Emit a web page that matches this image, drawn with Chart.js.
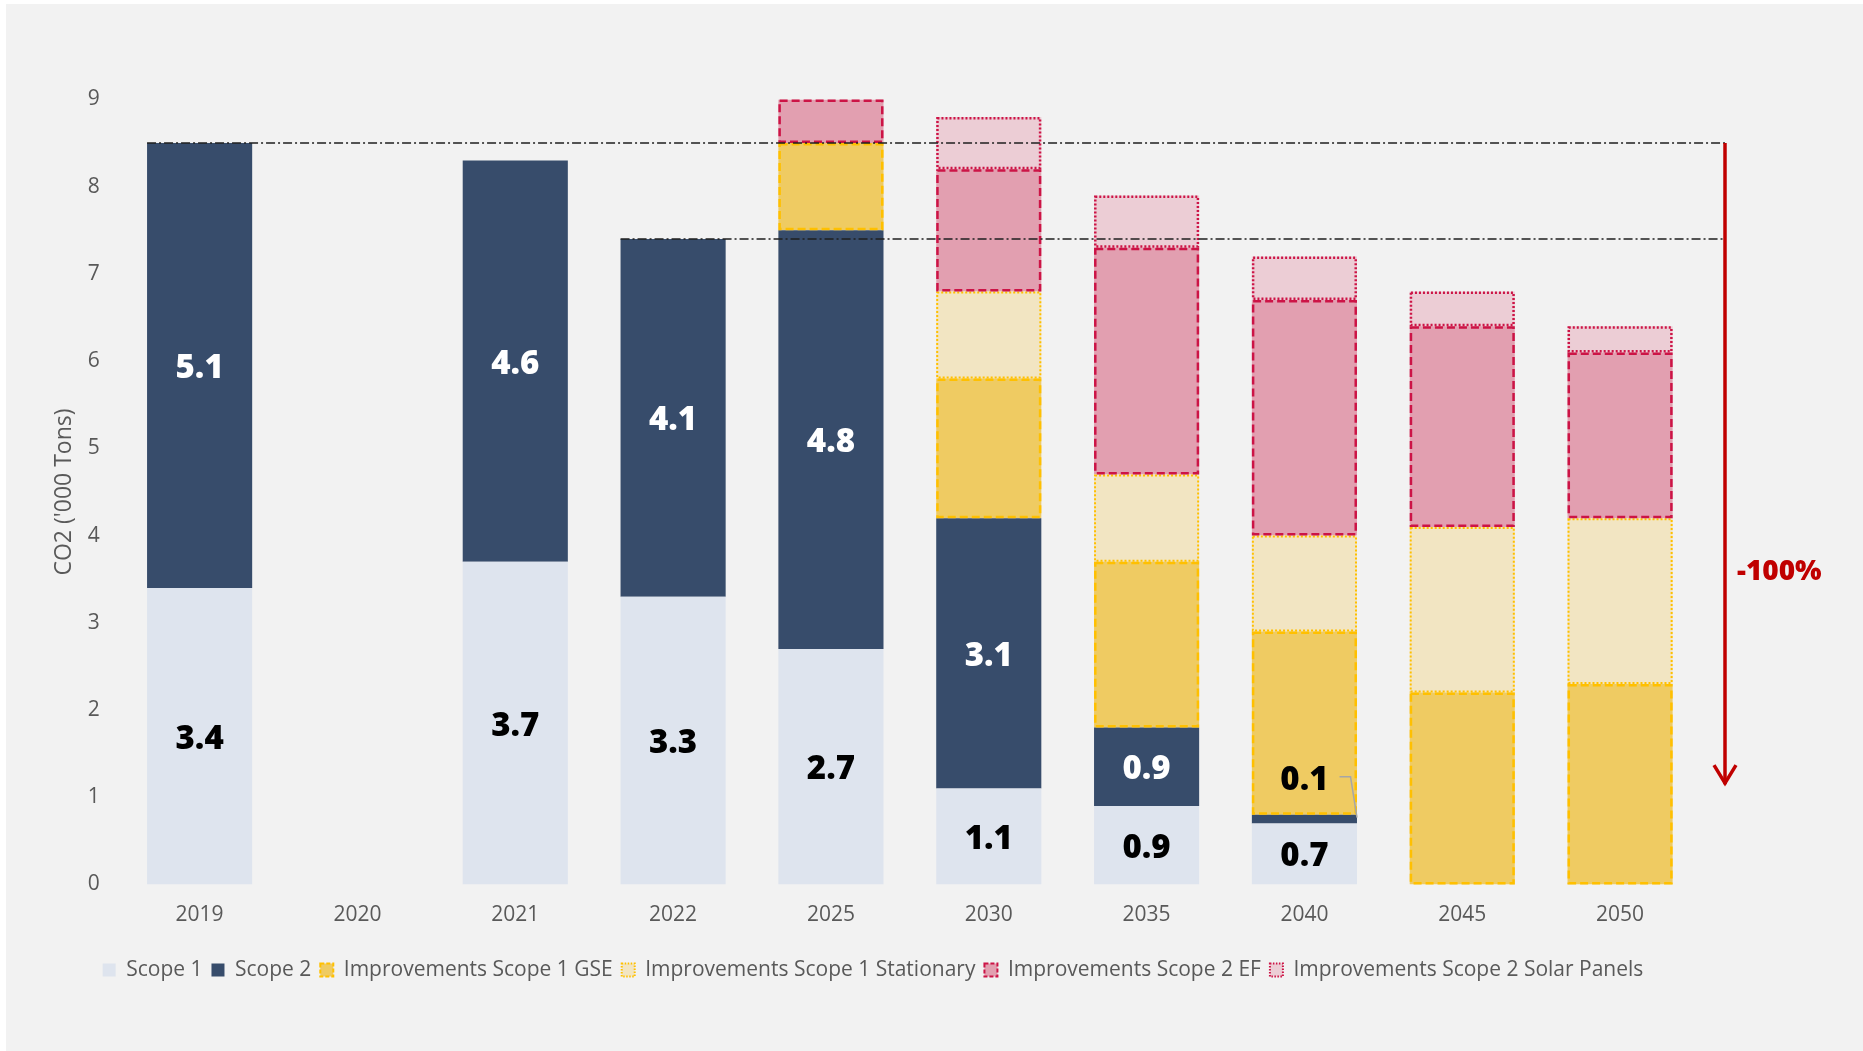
<!DOCTYPE html>
<html><head><meta charset="utf-8">
<script src="https://cdn.jsdelivr.net/npm/chart.js@4.4.1/dist/chart.umd.min.js"></script>
<style>
html,body{margin:0;padding:0;background:#fff;}
canvas{display:block;}
</style></head><body>
<canvas id="c" width="1863" height="1051"></canvas>
<script>
// ---- data ----
const categories = ['2019','2020','2021','2022','2025','2030','2035','2040','2045','2050'];
const scope1               = [3.4, null, 3.7, 3.3, 2.7, 1.1, 0.9, 0.7, null, null];
const scope2               = [5.1, null, 4.6, 4.1, 4.8, 3.1, 0.9, 0.1, null, null];
const imprScope1GSE        = [null, null, null, null, 1.0, 1.6, 1.9, 2.1, 2.2, 2.3];
const imprScope1Stationary = [null, null, null, null, null, 1.0, 1.0, 1.1, 1.9, 1.9];
const imprScope2EF         = [null, null, null, null, 0.5, 1.4, 2.6, 2.7, 2.3, 1.9];
const imprScope2Solar      = [null, null, null, null, null, 0.6, 0.6, 0.5, 0.4, 0.3];
const yTickValues = [0, 1, 2, 3, 4, 5, 6, 7, 8, 9];
const yAxisTitle = "CO2 ('000 Tons)";
const baselineLevels = [ { value: 8.5, fromCategory: '2019' }, { value: 7.4, fromCategory: '2022' } ];
const reductionArrow = { from: 8.5, to: 1.15, label: '-100%', labelAt: 3.6 };

const GREY = '#595959';
const FONT = "'Open Sans', 'Noto Sans', sans-serif";

const datasets = [
  { label: 'Scope 1', data: scope1, backgroundColor: '#dee4ee', labelColor: '#000000' },
  { label: 'Scope 2', data: scope2, backgroundColor: '#374c6b', labelColor: '#ffffff' },
  { label: 'Improvements Scope 1 GSE', data: imprScope1GSE, backgroundColor: '#efcb62',
    edge: { color: '#ffc000', width: 2.5, dash: [8, 4] } },
  { label: 'Improvements Scope 1 Stationary', data: imprScope1Stationary, backgroundColor: '#f2e5c2',
    edge: { color: '#ffc000', width: 2, dash: [2, 2] } },
  { label: 'Improvements Scope 2 EF', data: imprScope2EF, backgroundColor: '#e29fb0',
    edge: { color: '#cc1446', width: 2.5, dash: [8, 4] } },
  { label: 'Improvements Scope 2 Solar Panels', data: imprScope2Solar, backgroundColor: '#eccdd5',
    edge: { color: '#cc1446', width: 2.5, dash: [2, 2] } }
].map(d => Object.assign({ borderWidth: 0, categoryPercentage: 1.0, barPercentage: 0.666 }, d));

const bgPlugin = {
  id: 'bg',
  beforeDraw(chart) {
    const ctx = chart.ctx;
    ctx.save();
    ctx.fillStyle = '#ffffff';
    ctx.fillRect(0, 0, chart.width, chart.height);
    ctx.fillStyle = '#f2f2f2';
    ctx.fillRect(6, 4, chart.width - 6, chart.height - 4);
    ctx.restore();
  }
};

const edgePlugin = {
  id: 'edges',
  afterDatasetsDraw(chart) {
    const ctx = chart.ctx;
    chart.data.datasets.forEach((ds, di) => {
      if (!ds.edge) return;
      const meta = chart.getDatasetMeta(di);
      meta.data.forEach((el, i) => {
        const v = ds.data[i];
        if (v == null || v <= 0) return;
        const p = el.getProps(['x', 'y', 'base', 'width'], true);
        const lw = ds.edge.width;
        const left = p.x - p.width / 2, top = Math.min(p.y, p.base), h = Math.abs(p.base - p.y);
        ctx.save();
        ctx.strokeStyle = ds.edge.color;
        ctx.lineWidth = lw;
        ctx.setLineDash(ds.edge.dash);
        ctx.strokeRect(left + lw / 2, top + lw / 2, p.width - lw, h - lw);
        ctx.restore();
      });
    });
  }
};

const annotationPlugin = {
  id: 'annot',
  afterDatasetsDraw(chart) {
    const ctx = chart.ctx, xs = chart.scales.x, ys = chart.scales.y;
    const area = chart.chartArea;
    const arrowX = area.right + 26;
    const barW = chart.getDatasetMeta(0).data[0].width;
    ctx.save();
    ctx.strokeStyle = '#1f1f1f';
    ctx.lineWidth = 1.5;
    ctx.setLineDash([9, 3, 2, 3]);
    baselineLevels.forEach(b => {
      const y = ys.getPixelForValue(b.value);
      const x0 = xs.getPixelForValue(categories.indexOf(b.fromCategory)) - barW / 2;
      ctx.beginPath(); ctx.moveTo(x0, y); ctx.lineTo(arrowX, y); ctx.stroke();
    });
    ctx.setLineDash([]);
    ctx.strokeStyle = '#c00000';
    ctx.lineWidth = 3.5;
    const yA = ys.getPixelForValue(reductionArrow.from), yB = ys.getPixelForValue(reductionArrow.to);
    ctx.beginPath(); ctx.moveTo(arrowX, yA); ctx.lineTo(arrowX, yB); ctx.stroke();
    ctx.beginPath(); ctx.moveTo(arrowX - 11, yB - 19); ctx.lineTo(arrowX, yB - 1); ctx.lineTo(arrowX + 11, yB - 19); ctx.stroke();
    ctx.fillStyle = '#c00000';
    ctx.font = "800 28px " + FONT;
    ctx.textBaseline = 'middle';
    ctx.textAlign = 'left';
    ctx.fillText(reductionArrow.label, arrowX + 12, ys.getPixelForValue(reductionArrow.labelAt) + 2);
    ctx.restore();
  }
};

const labelPlugin = {
  id: 'valueLabels',
  afterDraw(chart) {
    const ctx = chart.ctx;
    ctx.save();
    ctx.font = "800 33px " + FONT;
    ctx.textAlign = 'center';
    ctx.textBaseline = 'middle';
    [0, 1].forEach(di => {
      const ds = chart.data.datasets[di];
      const meta = chart.getDatasetMeta(di);
      meta.data.forEach((el, i) => {
        const v = ds.data[i];
        if (v == null || v <= 0) return;
        const p = el.getProps(['x', 'y', 'base', 'width'], true);
        const txt = v.toFixed(1);
        const h = Math.abs(p.base - p.y);
        if (h < 30) {
          const ty = p.y - 37;
          const tw = ctx.measureText(txt).width;
          ctx.fillStyle = '#000000';
          ctx.fillText(txt, p.x, ty + 3);
          ctx.strokeStyle = '#a6a6a6';
          ctx.lineWidth = 1.5;
          ctx.beginPath();
          ctx.moveTo(p.x + tw / 2 + 11, ty - 1);
          ctx.lineTo(p.x + tw / 2 + 22, ty - 1);
          ctx.lineTo(p.x + p.width / 2, p.y + 3);
          ctx.stroke();
        } else {
          ctx.fillStyle = ds.labelColor;
          ctx.fillText(txt, p.x, (p.y + p.base) / 2 + 3);
        }
      });
    });
    ctx.restore();
  }
};

new Chart(document.getElementById('c'), {
  type: 'bar',
  data: { labels: categories, datasets },
  options: {
    responsive: false,
    animation: false,
    layout: { padding: { left: 47, right: 164, top: 99.5, bottom: 60.5 } },
    plugins: {
      tooltip: { enabled: false },
      legend: {
        position: 'bottom',
        labels: {
          color: GREY,
          font: { family: FONT, size: 21 },
          boxWidth: 13, boxHeight: 13, padding: 9,
          generateLabels(chart) {
            return chart.data.datasets.map((ds, i) => ({
              text: ds.label,
              fillStyle: ds.backgroundColor,
              strokeStyle: ds.edge ? ds.edge.color : ds.backgroundColor,
              lineWidth: ds.edge ? 2 : 0,
              lineDash: ds.edge ? (ds.edge.dash[0] > 3 ? [4, 2] : [1.5, 1.5]) : [],
              fontColor: GREY,
              hidden: false,
              datasetIndex: i
            }));
          }
        }
      }
    },
    scales: {
      x: {
        stacked: true,
        grid: { display: false, drawTicks: false },
        border: { display: false },
        ticks: { color: GREY, font: { family: FONT, size: 21 }, padding: 18 },
        afterFit(s) { s.height = 66; }
      },
      y: {
        stacked: true,
        min: yTickValues[0],
        max: yTickValues[yTickValues.length - 1],
        grid: { display: false, drawTicks: false },
        border: { display: false },
        afterBuildTicks(s) { s.ticks = yTickValues.map(v => ({ value: v })); },
        ticks: { color: GREY, font: { family: FONT, size: 21 }, padding: 21 },
        title: { display: true, text: yAxisTitle, color: GREY, font: { family: FONT, size: 23 }, padding: { top: 4, bottom: 4 } },
        afterFit(s) { s.width = 73.7; }
      }
    }
  },
  plugins: [bgPlugin, edgePlugin, annotationPlugin, labelPlugin]
});
</script>
</body></html>
